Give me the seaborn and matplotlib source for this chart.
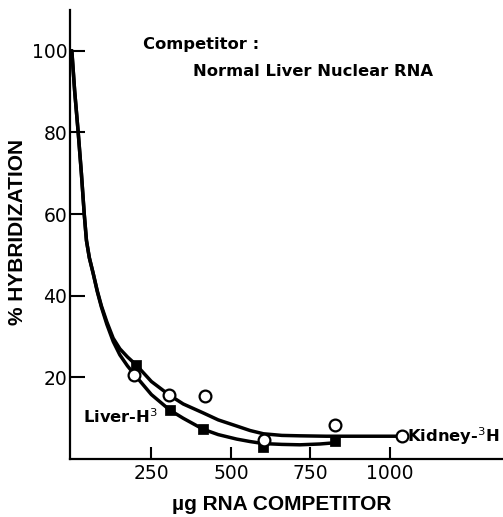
import pandas as pd
import matplotlib
matplotlib.use('Agg')
import matplotlib.pyplot as plt
import seaborn as sns

# measured points (ug RNA competitor, % hybridization)
kidney_x = [0, 196, 305, 420, 605, 827, 1037]
kidney_y = [100, 20.6, 15.6, 15.5, 4.6, 8.3, 5.6]
liver_x = [0, 203, 308, 413, 602, 827]
liver_y = [100, 23.0, 12.0, 7.3, 2.9, 4.4]

# hand-drawn fitted curves
upper_x = [0, 9, 20, 30, 39, 46, 55, 67, 80, 93, 110, 130, 151, 175, 203, 250, 306, 350, 413, 460,
           518, 560, 602, 660, 717, 800, 900, 1037]
upper_y = [100, 90, 80, 70, 60, 53.5, 49.3, 45.5, 41.2, 37.5, 33.6, 29.6, 27.0, 25.0, 23.0, 19.0, 15.7, 13.5, 11.3, 9.6,
           8.1, 7.0, 6.2, 5.8, 5.7, 5.6, 5.6, 5.6]
lower_x = [0, 9, 20, 30, 39, 46, 55, 67, 80, 93, 110, 130, 151, 175, 198, 250, 308, 350, 413, 460,
           518, 560, 602, 660, 717, 780, 827]
lower_y = [100, 90, 80, 70, 60, 53.5, 49.3, 45.5, 41.0, 37.2, 33.0, 28.8, 25.5, 22.8, 20.6, 15.8, 12.0, 10.0, 7.3, 6.0,
           4.9, 4.3, 3.8, 3.6, 3.5, 3.7, 4.0]

x_ticks = [250, 500, 750, 1000]
y_ticks = [20, 40, 60, 80, 100]

sns.set_style('white', rc={'text.color': 'black', 'axes.labelcolor': 'black',
                           'xtick.color': 'black', 'ytick.color': 'black',
                           'xtick.bottom': True, 'ytick.left': True})
plt.rcParams['font.family'] = ['Liberation Sans', 'DejaVu Sans']

fig = plt.figure(figsize=(5.03, 5.17), dpi=100)
ax = fig.add_axes([0.139, 0.112, 0.861, 0.869])

upper = pd.DataFrame({'x': upper_x, 'y': upper_y})
lower = pd.DataFrame({'x': lower_x, 'y': lower_y})
sns.lineplot(data=upper, x='x', y='y', sort=False, estimator=None, color='black', lw=2.5, ax=ax)
sns.lineplot(data=lower, x='x', y='y', sort=False, estimator=None, color='black', lw=2.5, ax=ax)

liver = pd.DataFrame({'x': liver_x[1:], 'y': liver_y[1:]})
kidney = pd.DataFrame({'x': kidney_x[1:], 'y': kidney_y[1:]})
sns.scatterplot(data=liver, x='x', y='y', marker='s', s=42, color='black', edgecolor='black', zorder=3, ax=ax)
sns.scatterplot(data=kidney, x='x', y='y', marker='o', s=72, facecolor='white', edgecolor='black', linewidth=1.6, zorder=4, ax=ax)

ax.set_xlim(-6, 1355)
ax.set_ylim(0, 110)
ax.set_xticks(x_ticks)
ax.set_yticks(y_ticks)
ax.set_xticklabels([str(t) for t in x_ticks], fontsize=13.5, family='DejaVu Sans')
ax.set_yticklabels([str(t) for t in y_ticks], fontsize=13.5, family='DejaVu Sans')
ax.tick_params(axis='both', direction='in', width=1.5)
ax.tick_params(axis='y', length=11, pad=2)
ax.tick_params(axis='x', length=8.5, pad=3.5)

for s in ['top', 'right']:
    ax.spines[s].set_visible(False)
for s in ['left', 'bottom']:
    ax.spines[s].set_linewidth(1.6)
    ax.spines[s].set_color('black')

ax.set_xlabel('µg RNA COMPETITOR', fontsize=15, fontweight='bold', va='top')
ax.set_ylabel('% HYBRIDIZATION', fontsize=15, fontweight='bold', va='bottom')
ax.xaxis.set_label_coords(0.49, -0.08)
ax.yaxis.set_label_coords(-0.099, 0.505)

ax.text(0.169, 0.922, 'Competitor :', transform=ax.transAxes, fontsize=11.8, fontweight='bold',
        family='DejaVu Sans', va='center')
ax.text(0.284, 0.862, 'Normal Liver Nuclear RNA', transform=ax.transAxes, fontsize=11.8, fontweight='bold',
        family='DejaVu Sans', va='center')
ax.text(35, 10.5, 'Liver-H$^3$', fontsize=11.8, fontweight='bold', family='DejaVu Sans', va='center')
ax.text(1052, 5.6, 'Kidney-$^3$H', fontsize=11.8, fontweight='bold', family='DejaVu Sans', va='center')

fig.savefig('out.png', dpi=100)
